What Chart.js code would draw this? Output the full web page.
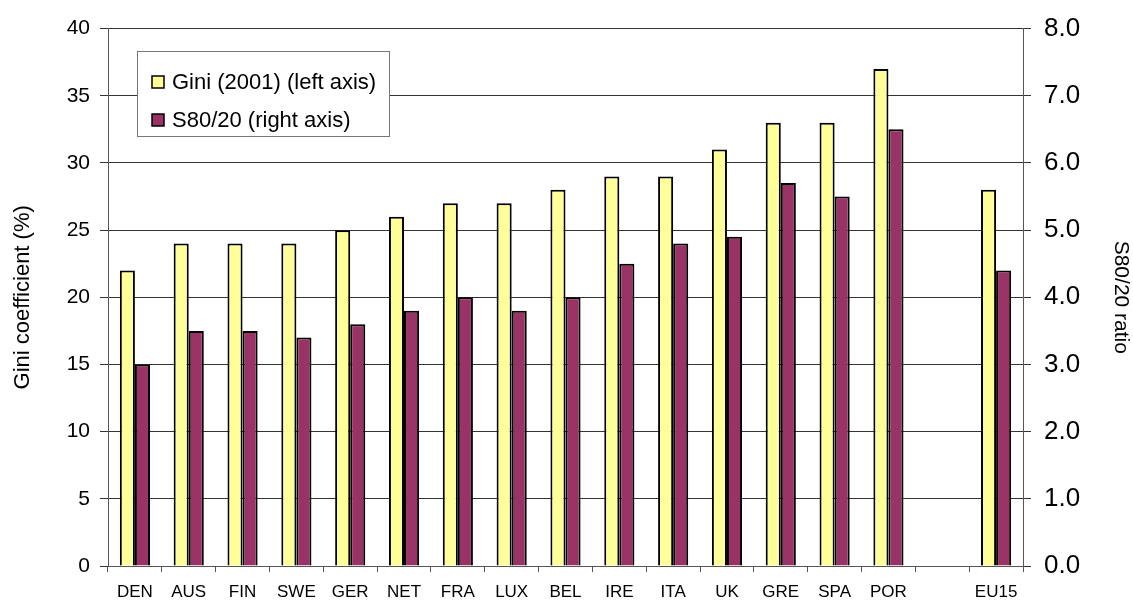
<!DOCTYPE html>
<html>
<head>
<meta charset="utf-8">
<title>Gini coefficient and S80/20 ratio, EU15</title>
<script src="https://cdn.jsdelivr.net/npm/chart.js@4/dist/chart.umd.min.js"></script>
<style>
  html, body { margin: 0; padding: 0; background: #ffffff; }
  #wrap { width: 1133px; height: 601px; }
</style>
</head>
<body>
<div id="wrap"><canvas id="chart" width="1133" height="601"></canvas></div>
<script>
// Countries along the x axis (one blank slot separates EU15 from the members)
const categories = ['DEN', 'AUS', 'FIN', 'SWE', 'GER', 'NET', 'FRA', 'LUX', 'BEL',
                    'IRE', 'ITA', 'UK', 'GRE', 'SPA', 'POR', '', 'EU15'];

// Gini coefficient (%), 2001 — left axis
const giniValues = [22, 24, 24, 24, 25, 26, 27, 27, 28, 29, 29, 31, 33, 33, 37, null, 28];

// S80/20 income quintile share ratio — right axis
const s8020Values = [3.0, 3.5, 3.5, 3.4, 3.6, 3.8, 4.0, 3.8, 4.0, 4.5, 4.8, 4.9, 5.7, 5.5, 6.5, null, 4.4];

const seriesLabels = ['Gini (2001) (left axis)', 'S80/20 (right axis)'];
const axisTitles = ['Gini coefficient (%)', 'S80/20 ratio'];

const FONT = "'Liberation Sans', Arial, sans-serif";
const NARROW = "'Liberation Sans Narrow', 'Liberation Sans', Arial, sans-serif";

// Boxed legend drawn inside the plot area, top-left
const boxedLegend = {
  id: 'boxedLegend',
  afterDraw(chart) {
    const ctx = chart.ctx;
    const x = 137, y = 51, w = 252, h = 85;
    ctx.save();
    ctx.fillStyle = '#ffffff';
    ctx.fillRect(x, y, w, h);
    ctx.strokeStyle = '#777777';
    ctx.lineWidth = 1;
    ctx.strokeRect(x + 0.5, y + 0.5, w, h);
    ctx.font = '22px ' + FONT;
    ctx.textBaseline = 'middle';
    ctx.textAlign = 'left';
    chart.data.datasets.forEach((ds, i) => {
      const cy = y + 31 + i * 38;
      ctx.fillStyle = ds.backgroundColor;
      ctx.fillRect(152, cy - 6, 12, 12);
      ctx.strokeStyle = '#000000';
      ctx.lineWidth = 1.5;
      ctx.strokeRect(152, cy - 6, 12, 12);
      ctx.fillStyle = '#000000';
      ctx.fillText(ds.label, 172, cy + 1);
    });
    ctx.restore();
  }
};

new Chart(document.getElementById('chart'), {
  type: 'bar',
  data: {
    labels: categories,
    datasets: [
      {
        label: seriesLabels[0],
        data: giniValues,
        yAxisID: 'y',
        backgroundColor: '#FFFF99',
        borderColor: '#000000',
        borderWidth: 2,
        barPercentage: 1.0,
        categoryPercentage: 0.56
      },
      {
        label: seriesLabels[1],
        data: s8020Values,
        yAxisID: 'y1',
        backgroundColor: '#993366',
        borderColor: '#000000',
        borderWidth: 2,
        barPercentage: 1.0,
        categoryPercentage: 0.56
      }
    ]
  },
  options: {
    responsive: false,
    animation: false,
    devicePixelRatio: 1,
    layout: { padding: { top: 26, bottom: 0, left: 0, right: 0 } },
    plugins: {
      legend: { display: false },
      tooltip: { enabled: false }
    },
    scales: {
      x: {
        grid: {
          display: true,
          drawOnChartArea: false,
          drawTicks: true,
          tickLength: 6,
          color: '#555555',
          offset: true
        },
        border: { display: true, color: '#555555', width: 1 },
        ticks: {
          color: '#000000',
          font: { family: NARROW, size: 17 },
          padding: 10,
          autoSkip: false,
          maxRotation: 0,
          minRotation: 0
        },
        afterFit(scale) { scale.height = 35; }
      },
      y: {
        position: 'left',
        min: 0,
        max: 40,
        grid: {
          color: '#333333',
          lineWidth: 1,
          tickLength: 8
        },
        border: { display: true, color: '#555555', width: 1 },
        ticks: {
          stepSize: 5,
          color: '#000000',
          font: { family: FONT, size: 21 },
          padding: 10
        },
        title: {
          display: true,
          text: axisTitles[0],
          color: '#000000',
          font: { family: FONT, size: 22 },
          padding: { top: 10, bottom: 0 }
        },
        afterFit(scale) { scale.width = 108; }
      },
      y1: {
        position: 'right',
        min: 0,
        max: 8,
        grid: {
          drawOnChartArea: false,
          drawTicks: true,
          tickLength: 8,
          color: '#333333'
        },
        border: { display: true, color: '#555555', width: 1 },
        ticks: {
          stepSize: 1,
          color: '#000000',
          font: { family: FONT, size: 26 },
          padding: 13,
          callback: (v) => Number(v).toFixed(1)
        },
        title: {
          display: true,
          text: axisTitles[1],
          color: '#000000',
          font: { family: FONT, size: 21 },
          padding: { top: 0, bottom: 0 }
        },
        afterFit(scale) { scale.width = 110; }
      }
    }
  },
  plugins: [boxedLegend]
});
</script>
</body>
</html>
